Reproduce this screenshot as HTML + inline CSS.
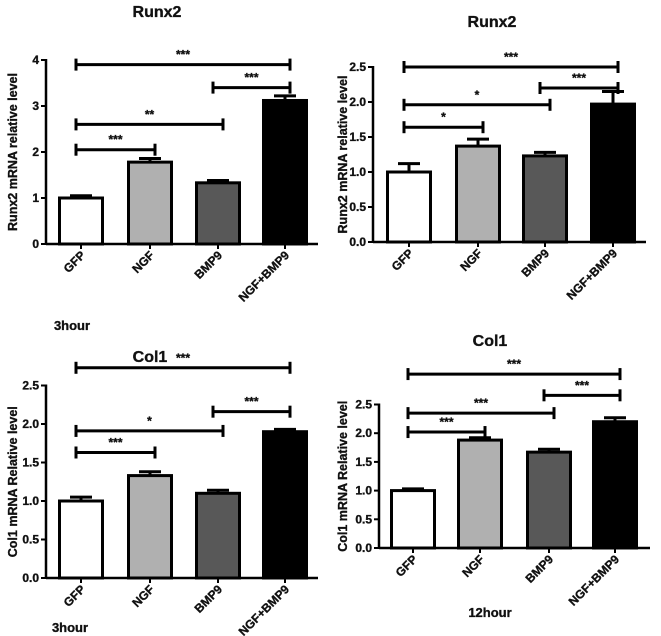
<!DOCTYPE html>
<html><head><meta charset="utf-8"><style>
html,body{margin:0;padding:0;background:#fff}
svg{display:block;font-family:"Liberation Sans",Arial,sans-serif}
svg text{font-weight:bold;fill:#111;stroke:#111;stroke-width:0.35}
</style></head><body>
<svg id="c" width="661" height="636" viewBox="0 0 661 636"></svg>
<script>
const categories = ["GFP","NGF","BMP9","NGF+BMP9"];
const fills = ["#ffffff","#b0b0b0","#585858","#000000"];
const p1Values = [1.0,1.78,1.33,3.12];
const p1Errors = [0.05,0.08,0.05,0.10];
const p1Ticks = [0,1,2,3,4];
const p2Values = [1.0,1.37,1.23,1.97];
const p2Errors = [0.12,0.10,0.05,0.18];
const p2Ticks = [0,0.5,1.0,1.5,2.0,2.5];
const p3Values = [1.0,1.33,1.10,1.90];
const p3Errors = [0.05,0.05,0.04,0.03];
const p3Ticks = [0,0.5,1.0,1.5,2.0,2.5];
const p4Values = [1.0,1.88,1.67,2.20];
const p4Errors = [0.03,0.04,0.05,0.07];
const p4Ticks = [0,0.5,1.0,1.5,2.0,2.5];
// brackets: [fromIndex, toIndex, yValue, label]
const p1Brackets = [[0,3,3.9,"***"],[2,3,3.4,"***"],[0,2,2.6,"**"],[0,1,2.05,"***"]];
const p2Brackets = [[0,3,2.5,"***"],[2,3,2.2,"***"],[0,2,1.96,"*"],[0,1,1.64,"*"]];
const p3Brackets = [[0,3,2.73,"***"],[2,3,2.16,"***"],[0,2,1.91,"*"],[0,1,1.63,"***"]];
const p4Brackets = [[0,3,3.03,"***"],[2,3,2.66,"***"],[0,2,2.35,"***"],[0,1,2.02,"***"]];

const NS="http://www.w3.org/2000/svg";
const svg=document.getElementById('c');
function mk(tag,attrs,parent,text){const e=document.createElementNS(NS,tag);for(const k in attrs)e.setAttribute(k,attrs[k]);if(text!==undefined)e.textContent=text;(parent||svg).appendChild(e);return e;}

const panels=[
 {id:"runx2-3h",vals:p1Values,errs:p1Errors,ticks:p1Ticks,br:p1Brackets,ax:46,y0:244,ppu:46,xEnd:318,barL:[58,127,195,262],bw:46,title:"Runx2",tx:157,ty:17,ylab:"Runx2 mRNA relative level",ylx:13,sub:"3hour",sx:72,sy:330,dec:0},
 {id:"runx2-12h",vals:p2Values,errs:p2Errors,ticks:p2Ticks,br:p2Brackets,ax:373,y0:242,ppu:70,xEnd:646,barL:[386,455,522,590],bw:46,title:"Runx2",tx:492,ty:27,ylab:"Runx2 mRNA relative level",ylx:343,sub:"",dec:1},
 {id:"col1-3h",vals:p3Values,errs:p3Errors,ticks:p3Ticks,br:p3Brackets,ax:46,y0:578,ppu:77,xEnd:318,barL:[58,127,195,262],bw:46,title:"Col1",tx:150,ty:362,ylab:"Col1  mRNA Relative level",ylx:13,sub:"3hour",sx:70,sy:632,dec:1},
 {id:"col1-12h",vals:p4Values,errs:p4Errors,ticks:p4Ticks,br:p4Brackets,ax:379,y0:548,ppu:57.4,xEnd:650,barL:[390,457,526,592],bw:46,title:"Col1",tx:490,ty:346,ylab:"Col1 mRNA Relative level",ylx:343,sub:"12hour",sx:490,sy:617,dec:1}
];

panels.forEach(p=>{
 const g=mk('g',{});
 
 
 const Y=v=>p.y0-v*p.ppu;
 const cx=i=>p.barL[i]+p.bw/2;
 const t=mk('text',{x:p.tx,y:p.ty,'text-anchor':'middle','font-size':16},g,p.title);
 
 
 p.vals.forEach((v,i)=>{
  const top=Y(v+p.errs[i]);
  const eb=mk('g',{},g);
  
  
  mk('line',{x1:cx(i),x2:cx(i),y1:Y(v),y2:top,stroke:'#000','stroke-width':3},eb);
  mk('line',{x1:cx(i)-11,x2:cx(i)+11,y1:top,y2:top,stroke:'#000','stroke-width':3},eb);
  const r=mk('rect',{x:p.barL[i]+1.5,y:Y(v),width:p.bw-3,height:Y(0)-Y(v),fill:fills[i],stroke:'#000','stroke-width':3},g);
  
  
 });
 const ya=mk('line',{x1:p.ax,x2:p.ax,y1:Y(0)+1,y2:Y(p.ticks[p.ticks.length-1])-1,stroke:'#000','stroke-width':2.5},g);
 
 
 const xa=mk('line',{x1:p.ax,x2:p.xEnd,y1:Y(0),y2:Y(0),stroke:'#000','stroke-width':2.5},g);
 
 
 p.ticks.forEach(tv=>{
  mk('line',{x1:p.ax-5,x2:p.ax,y1:Y(tv),y2:Y(tv),stroke:'#000','stroke-width':2},g);
  const tl=mk('text',{x:p.ax-7,y:Y(tv)+4,'text-anchor':'end','font-size':12},g,tv.toFixed(p.dec));
  
  
 });
 categories.forEach((c,i)=>{
  mk('line',{x1:cx(i),x2:cx(i),y1:Y(0),y2:Y(0)+5,stroke:'#000','stroke-width':2},g);
  const x=cx(i)+5,y=Y(0)+12;
  const cl=mk('text',{x:x,y:y,'text-anchor':'end','font-size':12,transform:`rotate(-45 ${x} ${y})`},g,c);
  
  
 });
 const yl=(p.y0+Y(p.ticks[p.ticks.length-1]))/2;
 const yt=mk('text',{x:p.ylx,y:yl,'text-anchor':'middle','font-size':12.5,transform:`rotate(-90 ${p.ylx} ${yl})`,dy:4},g,p.ylab);
 
 
 if(p.sub){
  const s=mk('text',{x:p.sx,y:p.sy,'text-anchor':'middle','font-size':13},g,p.sub);
  
  
 }
 p.br.forEach(b=>{
  const x1=cx(b[0])-5,x2=cx(b[1])+5,y=Y(b[2]);
  const bg=mk('g',{},g);
  
  
  mk('line',{x1:x1,x2:x2,y1:y,y2:y,stroke:'#000','stroke-width':3},bg);
  mk('line',{x1:x1,x2:x1,y1:y-6,y2:y+6,stroke:'#000','stroke-width':3},bg);
  mk('line',{x1:x2,x2:x2,y1:y-6,y2:y+6,stroke:'#000','stroke-width':3},bg);
  mk('text',{x:(x1+x2)/2,y:y-6,'text-anchor':'middle','font-size':12},bg,b[3]);
 });
});
</script>
</body></html>
